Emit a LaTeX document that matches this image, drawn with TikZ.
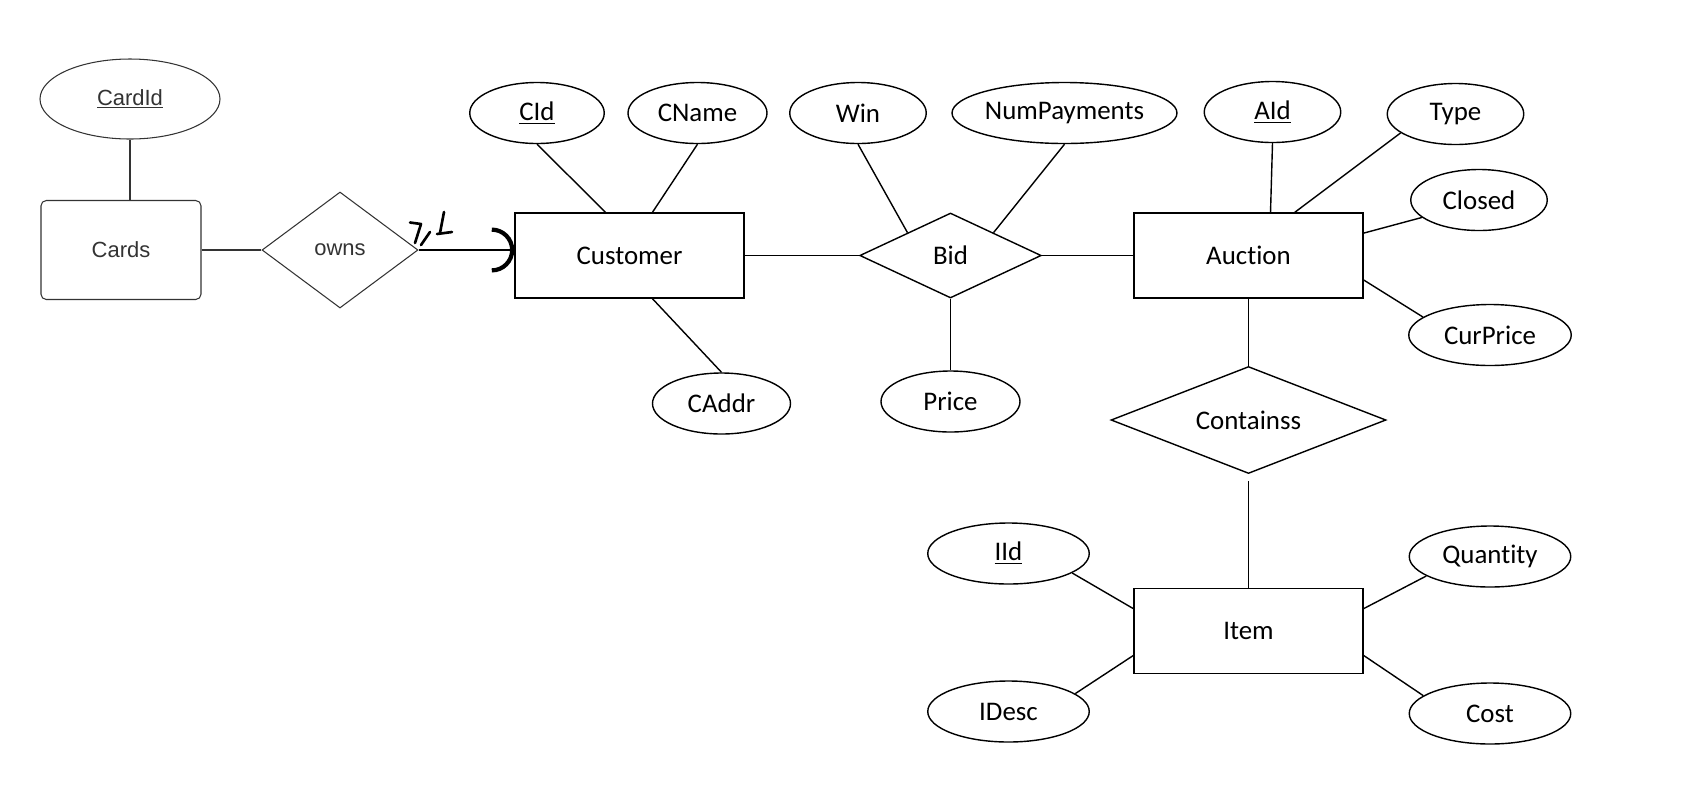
\documentclass[tikz,border=0pt]{standalone}
\usepackage{fontspec}
\setmainfont{Carlito}[Ligatures=NoCommon]
\newfontfamily\arialfont{Liberation Sans}
\usetikzlibrary{shapes.geometric,arrows.meta}

\begin{document}
\begin{tikzpicture}[
	entity/.style={draw,line width=0.8pt,minimum width=4.58cm,minimum height=1.7cm,font=\fontsize{15.3}{18}\selectfont},
	rel/.style={draw,diamond,line width=0.8pt,inner sep=0pt,font=\fontsize{15.3}{18}\selectfont},
	attr/.style={draw,ellipse,line width=0.8pt,inner sep=0pt,minimum height=1.22cm,font=\fontsize{15.3}{18}\selectfont},
	link/.style={line width=0.8pt},
	sketch/.style={line width=0.6pt,draw=black!80,text=black!80,font=\arialfont\fontsize{12.5}{15}\selectfont},
	pen/.style={line width=1.5pt,line cap=round,line join=round}
]
	\useasboundingbox (0,0) rectangle (33.76,-15.92);
	% set up nodes
	\node[sketch,ellipse,minimum width=3.6cm,minimum height=1.6cm] (cardid) at (2.6,-1.98) {\underline{CardId}};
	\node[sketch,rounded corners=3pt,minimum width=3.2cm,minimum height=1.98cm] (cards) at (2.42,-5) {Cards};
	\node[sketch,diamond,aspect=1.34,inner sep=0pt,minimum width=3.12cm,minimum height=2.32cm] (owns) at (6.8,-5) {owns};
	\node[entity] (customer) at (12.59,-5.11) {Customer};
	\node[entity] (auction) at (24.97,-5.11) {Auction};
	\node[entity] (item) at (24.97,-12.62) {Item};
	\node[rel,aspect=2.14,minimum width=3.63cm,minimum height=1.7cm] (bid) at (19.01,-5.11) {Bid};
	\node[rel,aspect=2.57,minimum width=5.5cm,minimum height=2.14cm] (containss) at (24.97,-8.4) {Containss};
	\node[attr,minimum width=2.69cm] (cid) at (10.74,-2.26) {\underline{CId}};
	\node[attr,minimum width=2.78cm] (cname) at (13.95,-2.26) {CName};
	\node[attr,minimum width=2.76cm] (caddr) at (14.43,-8.07) {CAddr};
	\node[attr,minimum width=2.73cm] (win) at (17.16,-2.26) {Win};
	\node[attr,minimum width=4.48cm] (numpay) at (21.29,-2.26) {NumPayments};
	\node[attr,minimum width=2.78cm] (price) at (19.01,-8.03) {Price};
	\node[attr,minimum width=2.73cm] (aid) at (25.45,-2.24) {\underline{AId}};
	\node[attr,minimum width=2.73cm] (type) at (29.11,-2.28) {Type};
	\node[attr,minimum width=2.73cm] (closed) at (29.58,-4.0) {Closed};
	\node[attr,minimum width=3.25cm] (curprice) at (29.8,-6.7) {CurPrice};
	\node[attr,minimum width=3.23cm] (iid) at (20.17,-11.07) {\underline{IId}};
	\node[attr,minimum width=3.23cm] (quantity) at (29.8,-11.13) {Quantity};
	\node[attr,minimum width=3.23cm] (idesc) at (20.17,-14.23) {IDesc};
	\node[attr,minimum width=3.23cm] (cost) at (29.8,-14.27) {Cost};
	% connect them
	\draw[sketch] (cardid.south) -- (cardid.south |- cards.north);
	\draw[sketch] (cards) -- (owns);
	\draw[line width=1.1pt,-{Arc Barb[length=4.5mm,width=9mm,line width=2.4pt]}] (owns.east) -- (owns.east -| customer.west);
	% hand written marks
	\draw[pen] (8.2,-4.45) -- (8.42,-4.48) -- (8.3,-4.86);
	\draw[pen] (8.6,-4.64) -- (8.42,-4.9);
	\draw[pen] (8.88,-4.24) -- (8.8,-4.66);
	\draw[pen] (8.74,-4.68) -- (9.04,-4.64);
	\draw[link] (cid.south) -- (customer.119);
	\draw[link] (cname.south) -- (customer.62);
	\draw[link] (caddr.north) -- (customer.-62);
	\draw[link] (customer) -- (bid);
	\draw[link] (win.south) -- (bid.152);
	\draw[link] (numpay.south) -- (bid.28);
	\draw[link] (bid) -- (price);
	\draw[link] (bid) -- (auction);
	\draw[link] (aid.south) -- (auction.63);
	\draw[link] (type.199) -- (auction.43);
	\draw[link] (closed.197) -- (auction.11);
	\draw[link] (curprice.165) -- (auction.-12);
	\draw[link] (auction) -- (containss);
	\draw[link,shorten <=4pt] (containss) -- (item);
	\draw[link] (iid.-17) -- (item.169);
	\draw[link] (quantity.197) -- (item.11);
	\draw[link] (idesc.15) -- (item.192);
	\draw[link] (cost.165) -- (item.-12);
\end{tikzpicture}
\end{document}
